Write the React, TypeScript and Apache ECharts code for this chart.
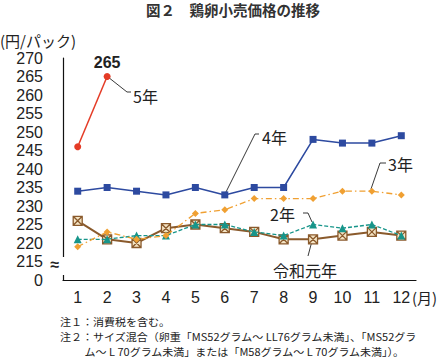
import React, { useEffect, useRef } from "react";
import * as echarts from "echarts";

const months = ["1", "2", "3", "4", "5", "6", "7", "8", "9", "10", "11", "12"];
const reiwa1 = [226, 221, 220, 224, 225, 224, 223, 221, 221, 222, 223, 222];
const reiwa2 = [221, 221, 222, 222, 225, 225, 223, 222, 225, 224, 225, 222];
const reiwa3 = [219, 223, 221, 222, 228, 229, 232, 232, 232, 234, 234, 233];
const reiwa4 = [234, 235, 234, 233, 235, 233, 235, 235, 248, 247, 247, 249];
const reiwa5 = [246, 265, null, null, null, null, null, null, null, null, null, null];
const yMin = 210;
const yMax = 270;
const yStep = 5;
const seriesNames = ["令和元年", "2年", "3年", "4年", "5年"];

const title = "図２　鶏卵小売価格の推移";
const unitLabel = "(円/パック)";
const monthUnit = "(月)";
const notes = [
  "注１：消費税を含む。",
  "注２：サイズ混合（卵重「MS52グラム～ LL76グラム未満」、「MS52グラ",
  "　　 ム～ L 70グラム未満」または「M58グラム～ L 70グラム未満」）。",
];

const JP = '"Noto Sans CJK JP", sans-serif';
const NUM = '"Liberation Sans", Arial, sans-serif';

export default function App() {
  const ref = useRef<HTMLDivElement>(null);
  useEffect(() => {
    if (!ref.current) return;
    const chart = echarts.init(ref.current, null, { renderer: "svg" });
    const leader = (points: number[][]) => ({
      type: "polyline",
      shape: { points },
      style: { stroke: "#222", lineWidth: 0.9, fill: null },
      silent: true,
    });
    const label = (text: string, x: number, y: number, size = 16, align = "left") => ({
      type: "text",
      x,
      y,
      style: {
        text,
        font: `${size}px ${JP}`,
        fill: "#222",
        textAlign: align,
        textVerticalAlign: "middle",
      },
      silent: true,
    });
    chart.setOption({
      animation: false,
      grid: { left: 63, right: 29, top: 58, bottom: 84, containLabel: false },
      xAxis: {
        type: "category",
        data: months,
        boundaryGap: true,
        axisLine: { lineStyle: { color: "#111", width: 1.2 } },
        axisTick: { show: false },
        axisLabel: { color: "#222", fontSize: 16, fontFamily: NUM, margin: 9 },
      },
      yAxis: {
        type: "value",
        min: yMin,
        max: yMax,
        interval: yStep,
        axisLine: { show: true, lineStyle: { color: "#111", width: 1.2 } },
        axisTick: { show: false },
        splitLine: { show: false },
        axisLabel: {
          color: "#222",
          fontSize: 16,
          fontFamily: NUM,
          margin: 20,
          formatter: (v: number) => (v === yMin ? "0" : String(v)),
        },
      },
      series: [
        {
          name: seriesNames[0],
          type: "line",
          data: reiwa1,
          symbol: "path://M0 0H10V10H0Z M0 0L10 10 M10 0L0 10",
          symbolSize: 9,
          itemStyle: { color: "#f4e4c4", borderColor: "#8a5a2c", borderWidth: 1.3 },
          lineStyle: { color: "#8a5a2c", width: 2 },
          z: 2,
        },
        {
          name: seriesNames[1],
          type: "line",
          data: reiwa2,
          symbol: "triangle",
          symbolSize: 8,
          itemStyle: { color: "#17958a" },
          lineStyle: { color: "#17958a", width: 1.3, type: [4, 2] },
          z: 3,
        },
        {
          name: seriesNames[2],
          type: "line",
          data: reiwa3,
          symbol: "diamond",
          symbolSize: 7,
          itemStyle: { color: "#f0a032" },
          lineStyle: { color: "#f0a032", width: 1.3, type: [6, 3, 1.5, 3] },
          z: 4,
        },
        {
          name: seriesNames[3],
          type: "line",
          data: reiwa4,
          symbol: "rect",
          symbolSize: 7,
          itemStyle: { color: "#2d4aa0" },
          lineStyle: { color: "#2d4aa0", width: 1.5 },
          z: 5,
        },
        {
          name: seriesNames[4],
          type: "line",
          data: reiwa5.map((v, i) =>
            i === 1
              ? {
                  value: v,
                  label: {
                    show: true,
                    position: "top",
                    distance: 3,
                    fontSize: 16,
                    fontWeight: "bold",
                    fontFamily: NUM,
                    color: "#222",
                  },
                }
              : v
          ),
          symbol: "circle",
          symbolSize: 7,
          itemStyle: { color: "#e43b26" },
          lineStyle: { color: "#e43b26", width: 1.5 },
          z: 6,
        },
      ],
      graphic: [
        {
          type: "text",
          x: 233,
          y: 9,
          style: {
            text: title,
            font: `bold 14.5px ${JP}`,
            fill: "#333",
            textAlign: "center",
            textVerticalAlign: "middle",
          },
        },
        {
          type: "text",
          x: 0,
          y: 40,
          style: {
            text: unitLabel,
            font: `15px ${JP}`,
            fill: "#222",
            textAlign: "left",
            textVerticalAlign: "middle",
          },
        },
        // axis break
        { type: "rect", shape: { x: 60, y: 257, width: 6, height: 18 }, style: { fill: "#fff" }, z: 10 },
        {
          type: "text",
          x: 55,
          y: 264,
          z: 11,
          style: { text: "≈", font: `bold 16px ${NUM}`, fill: "#222", textAlign: "center", textVerticalAlign: "middle" },
        },
        {
          type: "text",
          x: 412,
          y: 297,
          style: { text: monthUnit, font: `15px ${JP}`, fill: "#222", textAlign: "left", textVerticalAlign: "middle" },
        },
        // annotations
        leader([[108, 77], [127, 92], [131, 92]]),
        label("5年", 133, 96),
        leader([[226, 192], [255, 134], [259, 134]]),
        label("4年", 262, 137),
        leader([[371, 189], [380, 163], [386, 163]]),
        label("3年", 388, 164),
        leader([[303, 213], [308, 213], [312, 222]]),
        label("2年", 270, 214),
        leader([[312, 241], [308, 256]]),
        label("令和元年", 273, 270),
        ...notes.map((t, i) => ({
          type: "text",
          x: 60,
          y: 322 + i * 15,
          scaleX: 1.05,
          style: {
            text: t,
            font: `10.5px ${JP}`,
            fill: "#222",
            textAlign: "left",
            textVerticalAlign: "middle",
          },
        })),
      ],
    });
    return () => chart.dispose();
  }, []);
  return (
    <div
      ref={ref}
      style={{ position: "fixed", left: 0, top: 0, width: 445, height: 364, background: "#fff" }}
    />
  );
}
